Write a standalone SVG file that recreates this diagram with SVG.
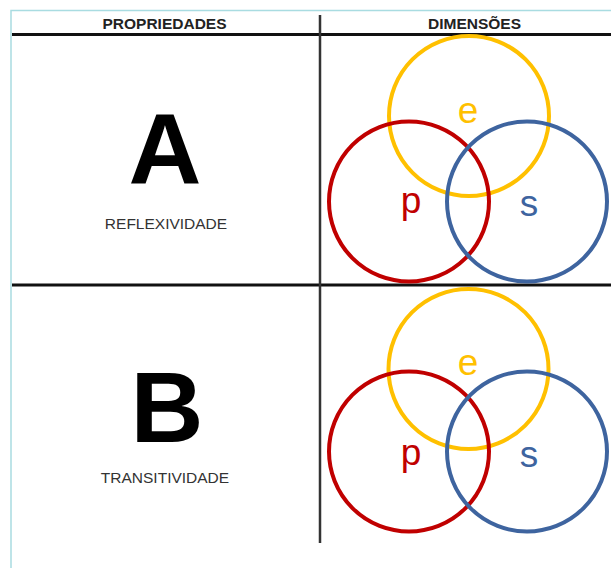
<svg xmlns="http://www.w3.org/2000/svg" width="611" height="568" viewBox="0 0 611 568">
<style>
.frame{stroke:#a9dce1;stroke-width:1.5;fill:none}
.rule{stroke:#111;stroke-width:3}
.vrule{stroke:#333;stroke-width:2.5}
.hdr{font-family:"Liberation Sans",Arial,sans-serif;font-weight:bold;font-size:15.5px;fill:#222;text-anchor:middle}
.big{font-family:"Liberation Sans",Arial,sans-serif;font-weight:bold;font-size:101px;fill:#000;text-anchor:middle}
.lbl{font-family:"Liberation Sans",Arial,sans-serif;font-size:15.5px;fill:#333;text-anchor:middle}
.c{fill:none;stroke-width:4}
.ye{stroke:#ffc000}.re{stroke:#c00000}.bl{stroke:#3e649f}
.let{font-family:"Liberation Sans",Arial,sans-serif;font-size:37px;text-anchor:middle}
</style>
<rect width="611" height="568" fill="#fff"/>
<g id="frame">
<path class="frame" d="M11 568V10.5H611"/>
</g>
<g id="grid">
<line class="rule" x1="12" y1="34.5" x2="611" y2="34.5"/>
<line class="rule" x1="12" y1="285" x2="611" y2="285"/>
<line class="vrule" x1="320" y1="15" x2="320" y2="543"/>
</g>
<g id="headers">
<text class="hdr" x="164.5" y="29">PROPRIEDADES</text>
<text class="hdr" x="474.5" y="29">DIMENSÕES</text>
</g>
<g id="propA">
<text class="big" x="165" y="184">A</text>
<text class="lbl" x="166" y="229">REFLEXIVIDADE</text>
</g>
<g id="propB">
<text class="big" x="167" y="442">B</text>
<text class="lbl" x="165" y="483">TRANSITIVIDADE</text>
</g>
<g id="vennA">
<circle class="c ye" cx="469" cy="116" r="80"/>
<circle class="c re" cx="409" cy="201.5" r="80"/>
<circle class="c bl" cx="527" cy="201.5" r="80"/>
<text class="let" x="468" y="123" fill="#ffc000">e</text>
<text class="let" x="411" y="213" fill="#c00000">p</text>
<text class="let" x="529" y="216" fill="#3e649f">s</text>
</g>
<g id="vennB">
<circle class="c ye" cx="468.5" cy="369" r="80"/>
<circle class="c re" cx="409" cy="451.5" r="80"/>
<circle class="c bl" cx="527" cy="451.5" r="80"/>
<text class="let" x="468" y="375" fill="#ffc000">e</text>
<text class="let" x="411" y="465" fill="#c00000">p</text>
<text class="let" x="529" y="467" fill="#3e649f">s</text>
</g>
</svg>
